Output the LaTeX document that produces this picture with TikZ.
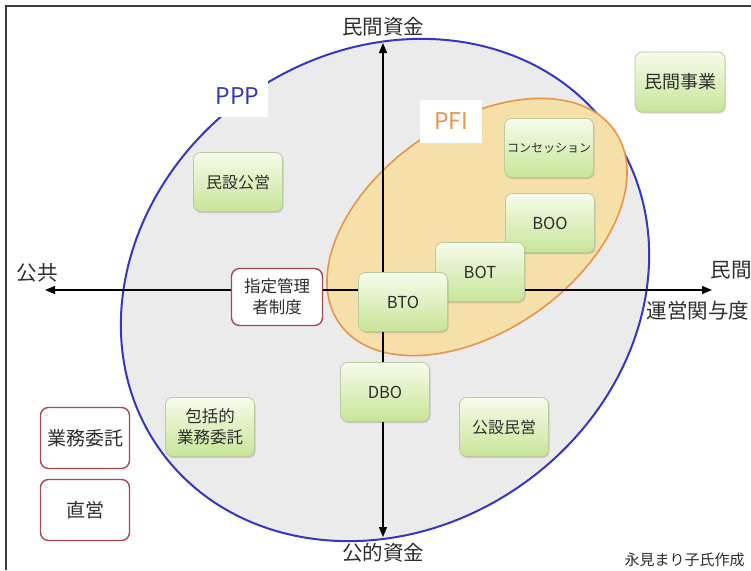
\documentclass[tikz,border=0pt]{standalone}
\usepackage{fontspec}
\setmainfont{Noto Sans CJK JP}
\usetikzlibrary{arrows.meta,shadows}
\definecolor{pppblue}{HTML}{3636C0}
\definecolor{pfiorange}{HTML}{E8944A}
\definecolor{pfifill}{HTML}{F4E0A8}
\definecolor{pppfill}{HTML}{EBEBEB}
\definecolor{gtop}{HTML}{F6FBEC}
\definecolor{gbot}{HTML}{C8E597}
\definecolor{gborder}{HTML}{B9CC9E}
\definecolor{redb}{HTML}{A8484F}
\definecolor{txt}{HTML}{2E2E2E}
\definecolor{framec}{HTML}{3C3C3C}
\begin{document}
\begin{tikzpicture}[x=1pt,y=-1pt,
  gbox/.style={rounded corners=7pt, draw=gborder, line width=0.8pt,
    top color=gtop, bottom color=gbot, minimum width=89pt, minimum height=59pt,
    inner sep=2pt, align=center, text=txt, font=\fontsize{16}{20}\selectfont,
    drop shadow={shadow xshift=1pt, shadow yshift=-1.5pt, opacity=0.22, fill=black!70}},
  rbox/.style={rounded corners=8pt, draw=redb, line width=1.4pt, fill=white,
    minimum width=89pt, minimum height=60pt, inner sep=2pt, align=center,
    text=txt, font=\fontsize{19}{22}\selectfont},
  axis/.style={line width=1.3pt, black,
    {Triangle[length=10pt,width=8pt]}-{Triangle[length=10pt,width=8pt]}},
  axlabel/.style={font=\fontsize{20.5}{24}\selectfont, text=txt, inner sep=0pt},
  tag/.style={fill=white, inner sep=0pt, font=\fontsize{23}{26}\selectfont}
]
\useasboundingbox (0,0) rectangle (751,570);
\fill[white] (0,0) rectangle (751,570);
\draw[framec, line width=1.5pt] (6,570) -- (6,6) -- (751,6);

% PPP ellipse
\draw[pppblue, line width=2pt, fill=pppfill, shift={(385,290)}, rotate=35]
  (0,0) ellipse [x radius=276, y radius=238];
% PFI ellipse
\draw[pfiorange, line width=1.6pt, fill=pfifill, shift={(477,227)}, rotate=35]
  (0,0) ellipse [x radius=168, y radius=104];

% ellipse labels
\node[tag, text=pppblue, minimum width=61pt, minimum height=41pt] (ppp) at (237.5,96.5) {PPP};
\node[tag, text=pfiorange, minimum width=62pt, minimum height=43pt] (pfi) at (451,121.5) {PFI};

% axes
\coordinate (vt) at (383,43);
\coordinate (vb) at (383,537);
\coordinate (hl) at (45,290);
\coordinate (hr) at (712,290);
\draw[axis] (vb) -- (vt);
\draw[axis] (hl) -- (hr);

% axis labels
\node[axlabel] (fundpriv) at (383,27) {民間資金};
\node[axlabel] (fundpub) at (383,553) {公的資金};
\node[axlabel] (pub) at (37,273) {公共};
\node[axlabel] (priv) at (731,270) {民間};
\node[axlabel] (degree) at (698,311) {運営関与度};

% green boxes
\node[gbox, font=\fontsize{18}{22}\selectfont, minimum width=90pt, minimum height=60pt] (minkan) at (680,82) {民間事業};
\node[gbox, font=\fontsize{12}{15}\selectfont] (concess) at (549,148) {コンセッション};
\node[gbox, font=\fontsize{16.5}{20}\selectfont] (boo) at (550,223) {BOO};
\node[gbox, font=\fontsize{16.5}{20}\selectfont] (bot) at (480,272) {BOT};
\node[gbox, font=\fontsize{16.5}{20}\selectfont] (bto) at (403,302) {BTO};
\node[gbox, font=\fontsize{16.5}{20}\selectfont] (dbo) at (385,392) {DBO};
\node[gbox] (koumin) at (504,427) {公設民営};
\node[gbox] (minkou) at (238,182) {民設公営};
\node[gbox, font=\fontsize{16.5}{21}\selectfont] (houkatsu) at (210,427) {包括的\\業務委託};

% red boxes
\node[rbox, font=\fontsize{16.5}{21}\selectfont, minimum width=91pt, minimum height=57pt] (shitei) at (277,297) {指定管理\\者制度};
\node[rbox, minimum height=61pt] (gyomu) at (85,438) {業務委託};
\node[rbox, minimum height=61pt] (chokuei) at (85,510) {直営};

% credit
\node[font=\fontsize{15}{18}\selectfont, text=txt, inner sep=0pt] (credit) at (684.5,560) {永見まり子氏作成};
\end{tikzpicture}
\end{document}
